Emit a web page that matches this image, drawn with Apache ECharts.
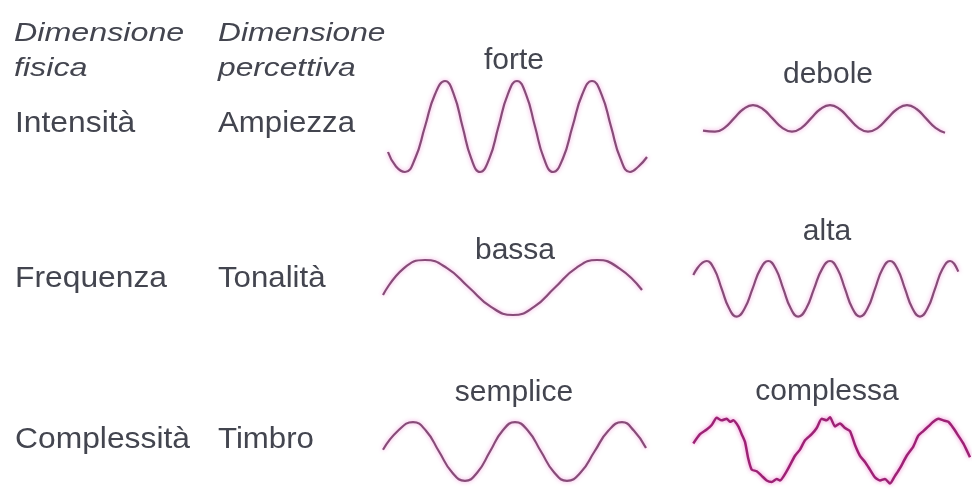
<!DOCTYPE html>
<html>
<head>
<meta charset="utf-8">
<script src="https://cdn.jsdelivr.net/npm/echarts@6/dist/echarts.min.js"></script>
<style>html,body{margin:0;padding:0;background:#fff}#c{width:972px;height:496px}</style>
</head>
<body>
<div id="c"></div>
<script>
// ---- text content ----
const headerPhysical = ['Dimensione', 'fisica'];
const headerPerceptual = ['Dimensione', 'percettiva'];
const rowLabelsPhysical = ['Intensità', 'Frequenza', 'Complessità'];
const rowLabelsPerceptual = ['Ampiezza', 'Tonalità', 'Timbro'];
const waveLabels = ['forte', 'debole', 'bassa', 'alta', 'semplice', 'complessa'];

// ---- wave samples: [time, amplitude] ----
const forte = [[3,-25.5],[11,-40],[20,-45.5],[30,-32.2],[40,0],[50,32.2],[60,45.5],[68.8,32.2],[77.5,0],[86.3,-32.2],[95,-45.5],[104.3,-32.2],[113.5,0],[122.8,32.2],[132,45.5],[141,32.2],[150,0],[159,-32.2],[168,-45.5],[177.8,-32.2],[187.5,0],[197.3,32.2],[207,45.5],[216.5,32.2],[226,0],[235.5,-32.2],[245,-45.5],[253.5,-40],[262,-30.5]];
const debole = [[3,-12.3],[15,-13.3],[24.5,-9.4],[34,0],[43.5,9.4],[53,13.3],[62.8,9.4],[72.5,0],[82.3,-9.4],[92,-13.3],[101.5,-9.4],[111,0],[120.5,9.4],[130,13.3],[139.5,9.4],[149,0],[158.5,-9.4],[168,-13.3],[177.8,-9.4],[187.5,0],[197.3,9.4],[207,13.3],[216.5,9.4],[226,0],[235.5,-9.4],[245,-14.3]];
const bassa = [[3,-7.5],[24,19.4],[45,27.5],[67,19.4],[89,0],[111,-19.4],[133,-27.5],[154,-19.4],[175,0],[196,19.4],[217,27.5],[239,19.4],[262,-2.5]];
const alta = [[3.3,13.8],[16.7,27.8],[24.2,19.7],[31.7,0],[39.2,-19.7],[46.7,-27.8],[54.6,-19.7],[62.5,0],[70.4,19.7],[78.3,27.8],[85.8,19.7],[93.3,0],[100.8,-19.7],[108.3,-27.8],[116.2,-19.7],[124,0],[132,19.7],[140,27.8],[147.5,19.7],[155,0],[162.5,-19.7],[170,-27.8],[177.5,-19.7],[185,0],[192.5,19.7],[200,27.8],[207.5,19.7],[215,0],[222.5,-19.7],[230,-27.8],[237.5,-19.7],[245,0],[252.5,19.7],[260,27.8],[268.3,17.1]];
const semplice = [[3,2],[18,23.3],[33,33],[46,23.3],[59,0],[72,-23.3],[85,-33],[97.5,-23.3],[110,0],[122.5,23.3],[135,33],[148,23.3],[161,0],[174,-23.3],[187,-33],[200.8,-23.3],[214.5,0],[228.3,23.3],[242,33],[254,23.3],[266,4]];
const complessa = [[3.3,6.8],[10,16.8],[16.7,21.8],[21.7,26.8],[26.7,34.5],[31.7,31.8],[36.7,33.5],[40,30.2],[43.3,31.8],[48.3,25.2],[51.7,16.8],[55,8.5],[58.3,-9.8],[61.7,-21.5],[66.7,-23.2],[71.7,-28.2],[76.7,-33.2],[81.7,-34.8],[86.7,-31.5],[90,-33.2],[96.7,-23.2],[105,-6.5],[110,0.2],[115,10.2],[121.7,16.8],[126.7,23.5],[131.7,33.5],[136.7,31.8],[140,35.2],[145,25.2],[150,28.5],[155,23.5],[160,20.2],[165,5.2],[170,-6.5],[175,-13.2],[180,-21.5],[185,-29.8],[190,-33.2],[195,-31.5],[200,-36.5],[205,-28.2],[210,-19.8],[216.7,-6.5],[223.3,3.5],[228.3,15.2],[233.3,20.2],[238.3,25.2],[243.3,30.2],[248.3,33.5],[253.3,31.8],[258.3,30.2],[263.3,23.5],[268.3,15.2],[273.3,6.8],[280,-8.2]];

const waves = [forte, debole, bassa, alta, semplice, complessa];

// ---- layout (panel boxes: left, midline, width) ----
const panels = [
  {left: 385, mid: 126.5, width: 270},
  {left: 700, mid: 118.4, width: 250},
  {left: 380, mid: 287.5, width: 270},
  {left: 690, mid: 288.8, width: 275},
  {left: 380, mid: 457, width: 270},
  {left: 690, mid: 453.5, width: 282}
];
const labelPos = [[514, 60.5], [828, 75], [515, 250.5], [827, 231.5], [514, 393], [827, 392]];
const rowY = [124, 279, 440];

const textColor = '#43454f';
const font = '"Liberation Sans", Arial, Helvetica, sans-serif';

const grids = [], xAxes = [], yAxes = [], series = [];
panels.forEach((p, i) => {
  grids.push({left: p.left, top: p.mid - 50, width: p.width, height: 100, containLabel: false});
  xAxes.push({type: 'value', gridIndex: i, min: 0, max: p.width, show: false});
  yAxes.push({type: 'value', gridIndex: i, min: -50, max: 50, show: false});
  const isComplex = i === 5;
  series.push({
    type: 'line', xAxisIndex: i, yAxisIndex: i, data: waves[i],
    smooth: isComplex ? 0.2 : 0.5,
    showSymbol: false, symbol: 'none', silent: true, animation: false,
    lineStyle: {
      color: isComplex ? '#9c2274' : '#864c78',
      width: isComplex ? 2.5 : 2.2,
      shadowColor: isComplex ? 'rgba(225,40,175,0.6)' : 'rgba(235,110,205,0.65)',
      shadowBlur: 4
    }
  });
});

const graphic = [];
function addText(txt, x, y, size, opts) {
  opts = opts || {};
  graphic.push({
    type: 'text', x: x, y: y, scaleX: opts.scaleX || 1, silent: true,
    style: {
      text: txt, fill: textColor,
      font: (opts.italic ? 'italic ' : '') + size + 'px ' + font,
      align: opts.align || 'left', verticalAlign: 'middle'
    }
  });
}
// headers
addText(headerPhysical[0], 14, 34, 26, {italic: true, scaleX: 1.24});
addText(headerPhysical[1], 14, 69, 26, {italic: true, scaleX: 1.24});
addText(headerPerceptual[0], 218, 34, 26, {italic: true, scaleX: 1.22});
addText(headerPerceptual[1], 218, 69, 26, {italic: true, scaleX: 1.22});
rowLabelsPhysical.forEach((t, i) => addText(t, 15, rowY[i], 30, {scaleX: 1.06}));
rowLabelsPerceptual.forEach((t, i) => addText(t, 218, rowY[i], 30, {scaleX: 1.04}));
waveLabels.forEach((t, i) => {
  graphic.push({
    type: 'text', x: labelPos[i][0], y: labelPos[i][1], silent: true,
    style: {text: t, fill: textColor, font: '30px ' + font, align: 'center', verticalAlign: 'middle'}
  });
});

const chart = echarts.init(document.getElementById('c'), null, {renderer: 'canvas'});
chart.setOption({
  backgroundColor: '#ffffff',
  animation: false,
  grid: grids, xAxis: xAxes, yAxis: yAxes,
  series: series,
  graphic: graphic
});
</script>
</body>
</html>
